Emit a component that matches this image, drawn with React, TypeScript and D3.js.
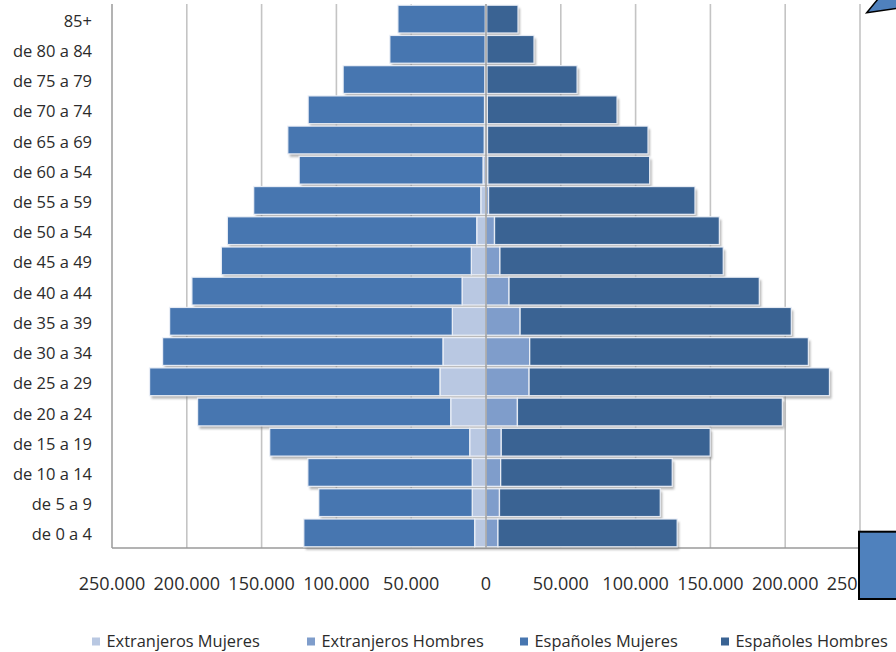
import React from "react";
import * as d3 from "d3";

const categories = [
  "85+", "de 80 a 84", "de 75 a 79", "de 70 a 74", "de 65 a 69", "de 60 a 54",
  "de 55 a 59", "de 50 a 54", "de 45 a 49", "de 40 a 44", "de 35 a 39", "de 30 a 34",
  "de 25 a 29", "de 20 a 24", "de 15 a 19", "de 10 a 14", "de 5 a 9", "de 0 a 4",
];
const extranjerosMujeres = [500, 600, 800, 1000, 1200, 2000, 3500, 6200, 9800, 16000, 22500, 28800, 30800, 23600, 10900, 9200, 9200, 7600];
const extranjerosHombres = [500, 600, 700, 900, 1000, 1200, 1700, 5700, 9300, 15400, 22800, 29200, 28800, 21000, 10200, 9800, 9000, 8000];
const espanolesMujeres = [58400, 63700, 94700, 117900, 131300, 122900, 151800, 166700, 167100, 180600, 189000, 187400, 194100, 169200, 133700, 109900, 102600, 114200];
const espanolesHombres = [20900, 31500, 60200, 86700, 107300, 108200, 138000, 150300, 149300, 167300, 181300, 186300, 200800, 177100, 139700, 114700, 107500, 119800];
const xTicks = [-250000, -200000, -150000, -100000, -50000, 0, 50000, 100000, 150000, 200000, 250000];
const seriesKeys = ["em", "eh", "sm", "sh"];
const seriesNames = ["Extranjeros Mujeres", "Extranjeros Hombres", "Españoles Mujeres", "Españoles Hombres"];

const colors: Record<string, string> = { em: "#b9c8e2", eh: "#7f9dcb", sm: "#4776b0", sh: "#3a6393" };
const legendX = [92, 307, 520, 721];
const FONT = "'Open Sans', 'Liberation Sans', sans-serif";
const TEXT = "#2b2b2b";

export default function App() {
  const rows = categories.map((c, i) => ({
    cat: c,
    em: -extranjerosMujeres[i],
    eh: extranjerosHombres[i],
    sm: -espanolesMujeres[i],
    sh: espanolesHombres[i],
  }));
  const stacked = d3.stack<any>().keys(seriesKeys).offset(d3.stackOffsetDiverging)(rows);

  const x = d3.scaleLinear().domain([-250000, 250000]).range([112, 860]);
  const y = d3.scaleBand().domain(categories).range([4, 548]).paddingInner(0.08).paddingOuter(0.04);
  const loc = d3.formatLocale({ decimal: ",", thousands: ".", grouping: [3], currency: ["", ""] });
  const fmt = loc.format(",");

  const leftTotals = rows.map((r) => r.em + r.sm);
  const rightTotals = rows.map((r) => r.eh + r.sh);

  return (
    <svg width={896} height={652} style={{ position: "absolute", left: 0, top: 0, background: "#fff" }}>
      <defs>
        <filter id="blur" x="-10%" y="-30%" width="120%" height="160%">
          <feGaussianBlur stdDeviation="0.9" />
        </filter>
      </defs>
      {/* gridlines */}
      {xTicks.map((t) => (
        <line key={"g" + t} x1={x(t)} x2={x(t)} y1={4} y2={548}
          stroke={t === -250000 ? "#8a8a8a" : "#c4c4c4"} strokeWidth={t === -250000 ? 1.3 : 1.6} />
      ))}
      <line x1={112} x2={860} y1={548} y2={548} stroke="#9a9a9a" strokeWidth={1.3} />
      {/* shadows */}
      <g filter="url(#blur)" opacity={0.55}>
        {rows.map((r, i) => (
          <g key={"s" + i}>
            <rect x={x(leftTotals[i]) + 2} y={(y(r.cat) as number) + 3} width={x(0) - x(leftTotals[i])}
              height={y.bandwidth()} fill="#7a7a7a" />
            <rect x={x(0) + 2} y={(y(r.cat) as number) + 3} width={x(rightTotals[i]) - x(0)}
              height={y.bandwidth()} fill="#7a7a7a" />
          </g>
        ))}
      </g>
      {/* bars */}
      {stacked.map((s) => (
        <g key={s.key}>
          {s.map((d, i) => {
            const x0 = x(Math.min(d[0], d[1]));
            const x1 = x(Math.max(d[0], d[1]));
            return (
              <rect key={i} x={x0} y={y(categories[i])} width={Math.max(0, x1 - x0)} height={y.bandwidth()}
                fill={colors[s.key]} stroke="#eef2f8" strokeOpacity={0.9} strokeWidth={1.3} />
            );
          })}
        </g>
      ))}
      {/* zero axis */}
      <line x1={x(0)} x2={x(0)} y1={4} y2={548} stroke="#a3a3a3" strokeWidth={1.6} />
      {/* category labels */}
      {categories.map((c) => (
        <text key={c} x={92} y={(y(c) as number) + y.bandwidth() / 2 + 7.5}
          textAnchor="end" fontFamily={FONT} fontSize={16.5} fill={TEXT}>{c}</text>
      ))}
      {/* tick labels */}
      {xTicks.map((t) => (
        <text key={"t" + t} x={x(t)} y={589.5} textAnchor="middle" fontFamily={FONT} fontSize={18} fill={TEXT}>
          {fmt(Math.abs(t))}
        </text>
      ))}
      {/* legend */}
      {seriesKeys.map((k, i) => (
        <g key={"l" + k}>
          <rect x={legendX[i]} y={637.5} width={8} height={8} fill={colors[k]} />
          <text x={legendX[i] + 14.5} y={646.5} fontFamily={FONT} fontSize={16.4} fill={TEXT}>{seriesNames[i]}</text>
        </g>
      ))}
      {/* decorative shapes */}
      <polygon points="866.7,12.7 878,-1 898,-1 898,8.3" fill="#4f81bd" stroke="#000" strokeWidth={1.5} />
      <rect x={859} y={531.7} width={40} height={67.3} fill="#4f81bd" stroke="#000" strokeWidth={2} />
    </svg>
  );
}
